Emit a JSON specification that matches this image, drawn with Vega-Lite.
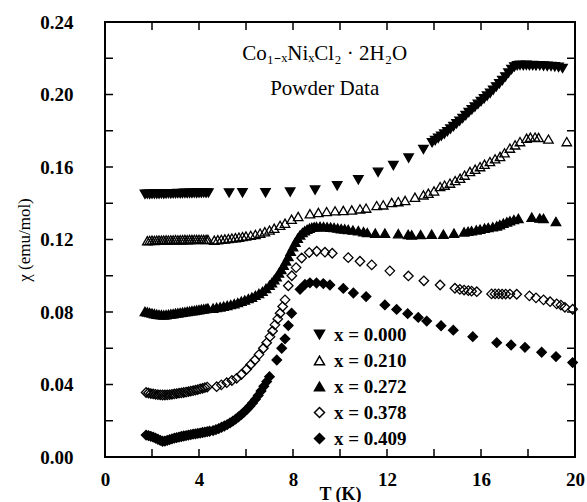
{
"$schema": "https://vega.github.io/schema/vega-lite/v6.json",
"width": 470, "height": 435,
"autosize": {"type": "none"},
"padding": {"left": 105, "top": 22, "right": 12, "bottom": 45},
"config": {"view": {"stroke": "black", "strokeWidth": 2}, "font": "Liberation Serif"},
"datasets": {
"main": [
{"series":"x = 0.000","T":1.7,"chi":0.1449},{"series":"x = 0.000","T":1.8,"chi":0.1450},{"series":"x = 0.000","T":1.9,"chi":0.1449},{"series":"x = 0.000","T":2.0,"chi":0.1450},{"series":"x = 0.000","T":2.1,"chi":0.1451},{"series":"x = 0.000","T":2.2,"chi":0.1450},{"series":"x = 0.000","T":2.3,"chi":0.1451},{"series":"x = 0.000","T":2.4,"chi":0.1452},{"series":"x = 0.000","T":2.5,"chi":0.1451},{"series":"x = 0.000","T":2.6,"chi":0.1452},{"series":"x = 0.000","T":2.7,"chi":0.1453},{"series":"x = 0.000","T":2.8,"chi":0.1452},{"series":"x = 0.000","T":2.9,"chi":0.1453},{"series":"x = 0.000","T":3.0,"chi":0.1453},{"series":"x = 0.000","T":3.1,"chi":0.1454},{"series":"x = 0.000","T":3.2,"chi":0.1453},{"series":"x = 0.000","T":3.3,"chi":0.1454},{"series":"x = 0.000","T":3.4,"chi":0.1455},{"series":"x = 0.000","T":3.5,"chi":0.1454},{"series":"x = 0.000","T":3.6,"chi":0.1455},{"series":"x = 0.000","T":3.7,"chi":0.1455},{"series":"x = 0.000","T":3.8,"chi":0.1456},{"series":"x = 0.000","T":3.9,"chi":0.1455},{"series":"x = 0.000","T":4.0,"chi":0.1456},{"series":"x = 0.000","T":4.1,"chi":0.1456},{"series":"x = 0.000","T":4.2,"chi":0.1457},{"series":"x = 0.000","T":4.3,"chi":0.1456},{"series":"x = 0.000","T":4.4,"chi":0.1457},
{"series":"x = 0.000","T":5.28,"chi":0.1457},{"series":"x = 0.000","T":5.85,"chi":0.1458},{"series":"x = 0.000","T":6.83,"chi":0.1458},{"series":"x = 0.000","T":7.88,"chi":0.1462},{"series":"x = 0.000","T":8.94,"chi":0.1473},{"series":"x = 0.000","T":9.88,"chi":0.1496},{"series":"x = 0.000","T":10.78,"chi":0.1529},{"series":"x = 0.000","T":11.62,"chi":0.1571},{"series":"x = 0.000","T":12.27,"chi":0.1608},{"series":"x = 0.000","T":12.92,"chi":0.1649},{"series":"x = 0.000","T":13.55,"chi":0.1697},
{"series":"x = 0.000","T":13.92,"chi":0.1734},{"series":"x = 0.000","T":14.05,"chi":0.1746},{"series":"x = 0.000","T":14.18,"chi":0.1758},{"series":"x = 0.000","T":14.31,"chi":0.1770},{"series":"x = 0.000","T":14.44,"chi":0.1782},{"series":"x = 0.000","T":14.57,"chi":0.1795},{"series":"x = 0.000","T":14.7,"chi":0.1809},{"series":"x = 0.000","T":14.83,"chi":0.1823},{"series":"x = 0.000","T":14.96,"chi":0.1838},{"series":"x = 0.000","T":15.09,"chi":0.1853},{"series":"x = 0.000","T":15.22,"chi":0.1868},{"series":"x = 0.000","T":15.35,"chi":0.1884},{"series":"x = 0.000","T":15.48,"chi":0.1900},{"series":"x = 0.000","T":15.61,"chi":0.1916},{"series":"x = 0.000","T":15.74,"chi":0.1931},{"series":"x = 0.000","T":15.87,"chi":0.1946},{"series":"x = 0.000","T":16.0,"chi":0.1961},{"series":"x = 0.000","T":16.13,"chi":0.1976},{"series":"x = 0.000","T":16.26,"chi":0.1991},{"series":"x = 0.000","T":16.39,"chi":0.2007},{"series":"x = 0.000","T":16.52,"chi":0.2024},{"series":"x = 0.000","T":16.65,"chi":0.2042},{"series":"x = 0.000","T":16.78,"chi":0.2059},{"series":"x = 0.000","T":16.91,"chi":0.2077},{"series":"x = 0.000","T":17.04,"chi":0.2097},{"series":"x = 0.000","T":17.17,"chi":0.2118},{"series":"x = 0.000","T":17.3,"chi":0.2138},{"series":"x = 0.000","T":17.42,"chi":0.2152},{"series":"x = 0.000","T":17.54,"chi":0.2159},
{"series":"x = 0.000","T":17.66,"chi":0.2161},{"series":"x = 0.000","T":17.8,"chi":0.2160},{"series":"x = 0.000","T":17.93,"chi":0.2161},{"series":"x = 0.000","T":18.06,"chi":0.2159},{"series":"x = 0.000","T":18.2,"chi":0.2160},{"series":"x = 0.000","T":18.34,"chi":0.2158},{"series":"x = 0.000","T":18.5,"chi":0.2159},{"series":"x = 0.000","T":18.66,"chi":0.2157},{"series":"x = 0.000","T":18.82,"chi":0.2156},{"series":"x = 0.000","T":18.98,"chi":0.2155},{"series":"x = 0.000","T":19.14,"chi":0.2153},{"series":"x = 0.000","T":19.3,"chi":0.2150},{"series":"x = 0.000","T":19.47,"chi":0.2144},

{"series":"x = 0.210","T":1.8,"chi":0.1193},{"series":"x = 0.210","T":1.9,"chi":0.1195},{"series":"x = 0.210","T":2.0,"chi":0.1196},{"series":"x = 0.210","T":2.1,"chi":0.1195},{"series":"x = 0.210","T":2.2,"chi":0.1196},{"series":"x = 0.210","T":2.3,"chi":0.1197},{"series":"x = 0.210","T":2.4,"chi":0.1196},{"series":"x = 0.210","T":2.5,"chi":0.1197},{"series":"x = 0.210","T":2.6,"chi":0.1198},{"series":"x = 0.210","T":2.7,"chi":0.1197},{"series":"x = 0.210","T":2.8,"chi":0.1198},{"series":"x = 0.210","T":2.9,"chi":0.1198},{"series":"x = 0.210","T":3.0,"chi":0.1199},{"series":"x = 0.210","T":3.1,"chi":0.1198},{"series":"x = 0.210","T":3.2,"chi":0.1199},{"series":"x = 0.210","T":3.3,"chi":0.1199},{"series":"x = 0.210","T":3.4,"chi":0.1200},{"series":"x = 0.210","T":3.5,"chi":0.1199},{"series":"x = 0.210","T":3.6,"chi":0.1200},{"series":"x = 0.210","T":3.7,"chi":0.1200},{"series":"x = 0.210","T":3.8,"chi":0.1201},{"series":"x = 0.210","T":3.9,"chi":0.1200},{"series":"x = 0.210","T":4.0,"chi":0.1201},{"series":"x = 0.210","T":4.1,"chi":0.1201},{"series":"x = 0.210","T":4.2,"chi":0.1200},{"series":"x = 0.210","T":4.3,"chi":0.1201},{"series":"x = 0.210","T":4.38,"chi":0.1200},
{"series":"x = 0.210","T":4.65,"chi":0.1196},{"series":"x = 0.210","T":4.8,"chi":0.1199},{"series":"x = 0.210","T":4.95,"chi":0.1201},{"series":"x = 0.210","T":5.1,"chi":0.1203},{"series":"x = 0.210","T":5.25,"chi":0.1205},{"series":"x = 0.210","T":5.4,"chi":0.1208},{"series":"x = 0.210","T":5.55,"chi":0.1210},{"series":"x = 0.210","T":5.7,"chi":0.1213},{"series":"x = 0.210","T":5.85,"chi":0.1216},{"series":"x = 0.210","T":6.0,"chi":0.1219},{"series":"x = 0.210","T":6.2,"chi":0.1223},{"series":"x = 0.210","T":6.4,"chi":0.1228},{"series":"x = 0.210","T":6.6,"chi":0.1235},{"series":"x = 0.210","T":6.8,"chi":0.1243},{"series":"x = 0.210","T":7.0,"chi":0.1252},{"series":"x = 0.210","T":7.2,"chi":0.1262},{"series":"x = 0.210","T":7.45,"chi":0.1278},{"series":"x = 0.210","T":7.66,"chi":0.1290},{"series":"x = 0.210","T":7.94,"chi":0.1312},{"series":"x = 0.210","T":8.22,"chi":0.1327},{"series":"x = 0.210","T":8.72,"chi":0.1342},{"series":"x = 0.210","T":9.08,"chi":0.1349},{"series":"x = 0.210","T":9.43,"chi":0.1354},{"series":"x = 0.210","T":9.79,"chi":0.1358},{"series":"x = 0.210","T":10.14,"chi":0.1360},{"series":"x = 0.210","T":10.5,"chi":0.1363},{"series":"x = 0.210","T":10.85,"chi":0.1369},{"series":"x = 0.210","T":11.11,"chi":0.1373},{"series":"x = 0.210","T":11.56,"chi":0.1387},{"series":"x = 0.210","T":11.84,"chi":0.1391},{"series":"x = 0.210","T":12.2,"chi":0.1404},{"series":"x = 0.210","T":12.48,"chi":0.1409},{"series":"x = 0.210","T":12.77,"chi":0.1415},{"series":"x = 0.210","T":13.19,"chi":0.1433},{"series":"x = 0.210","T":13.55,"chi":0.1446},{"series":"x = 0.210","T":13.76,"chi":0.1455},{"series":"x = 0.210","T":14.0,"chi":0.1468},{"series":"x = 0.210","T":14.26,"chi":0.1492},{"series":"x = 0.210","T":14.45,"chi":0.1500},{"series":"x = 0.210","T":14.68,"chi":0.1511},{"series":"x = 0.210","T":14.9,"chi":0.1525},{"series":"x = 0.210","T":15.11,"chi":0.1538},{"series":"x = 0.210","T":15.3,"chi":0.1555},{"series":"x = 0.210","T":15.53,"chi":0.1575},{"series":"x = 0.210","T":15.75,"chi":0.1588},{"series":"x = 0.210","T":15.96,"chi":0.1602},{"series":"x = 0.210","T":16.15,"chi":0.1615},{"series":"x = 0.210","T":16.38,"chi":0.1630},{"series":"x = 0.210","T":16.6,"chi":0.1645},{"series":"x = 0.210","T":16.81,"chi":0.1658},{"series":"x = 0.210","T":17.0,"chi":0.1678},{"series":"x = 0.210","T":17.23,"chi":0.1704},{"series":"x = 0.210","T":17.45,"chi":0.1722},{"series":"x = 0.210","T":17.66,"chi":0.1740},{"series":"x = 0.210","T":17.94,"chi":0.1759},{"series":"x = 0.210","T":18.1,"chi":0.1764},{"series":"x = 0.210","T":18.3,"chi":0.1765},{"series":"x = 0.210","T":18.45,"chi":0.1763},{"series":"x = 0.210","T":18.87,"chi":0.1754},{"series":"x = 0.210","T":19.65,"chi":0.1740},

{"series":"x = 0.272","T":1.7,"chi":0.0803},{"series":"x = 0.272","T":1.8,"chi":0.0800},{"series":"x = 0.272","T":1.9,"chi":0.0797},{"series":"x = 0.272","T":2.0,"chi":0.0794},{"series":"x = 0.272","T":2.1,"chi":0.0791},{"series":"x = 0.272","T":2.2,"chi":0.0788},{"series":"x = 0.272","T":2.3,"chi":0.0786},{"series":"x = 0.272","T":2.4,"chi":0.0785},{"series":"x = 0.272","T":2.5,"chi":0.0784},{"series":"x = 0.272","T":2.6,"chi":0.0785},{"series":"x = 0.272","T":2.7,"chi":0.0787},{"series":"x = 0.272","T":2.8,"chi":0.0789},{"series":"x = 0.272","T":2.9,"chi":0.0791},{"series":"x = 0.272","T":3.0,"chi":0.0793},{"series":"x = 0.272","T":3.1,"chi":0.0795},{"series":"x = 0.272","T":3.2,"chi":0.0797},{"series":"x = 0.272","T":3.3,"chi":0.0799},{"series":"x = 0.272","T":3.4,"chi":0.0801},{"series":"x = 0.272","T":3.5,"chi":0.0803},{"series":"x = 0.272","T":3.6,"chi":0.0805},{"series":"x = 0.272","T":3.7,"chi":0.0807},{"series":"x = 0.272","T":3.8,"chi":0.0809},{"series":"x = 0.272","T":3.9,"chi":0.0811},{"series":"x = 0.272","T":4.0,"chi":0.0813},{"series":"x = 0.272","T":4.1,"chi":0.0815},{"series":"x = 0.272","T":4.2,"chi":0.0817},{"series":"x = 0.272","T":4.3,"chi":0.0819},{"series":"x = 0.272","T":4.38,"chi":0.0821},
{"series":"x = 0.272","T":4.6,"chi":0.0821},{"series":"x = 0.272","T":4.75,"chi":0.0825},{"series":"x = 0.272","T":4.9,"chi":0.0828},{"series":"x = 0.272","T":5.05,"chi":0.0832},{"series":"x = 0.272","T":5.2,"chi":0.0836},{"series":"x = 0.272","T":5.35,"chi":0.0841},{"series":"x = 0.272","T":5.5,"chi":0.0846},{"series":"x = 0.272","T":5.65,"chi":0.0852},{"series":"x = 0.272","T":5.8,"chi":0.0860},{"series":"x = 0.272","T":5.95,"chi":0.0866},{"series":"x = 0.272","T":6.1,"chi":0.0874},{"series":"x = 0.272","T":6.25,"chi":0.0882},{"series":"x = 0.272","T":6.4,"chi":0.0892},{"series":"x = 0.272","T":6.55,"chi":0.0902},{"series":"x = 0.272","T":6.7,"chi":0.0914},{"series":"x = 0.272","T":6.85,"chi":0.0930},{"series":"x = 0.272","T":7.0,"chi":0.0948},{"series":"x = 0.272","T":7.1,"chi":0.0962},{"series":"x = 0.272","T":7.2,"chi":0.0978},{"series":"x = 0.272","T":7.3,"chi":0.0995},{"series":"x = 0.272","T":7.4,"chi":0.1015},{"series":"x = 0.272","T":7.5,"chi":0.1035},{"series":"x = 0.272","T":7.6,"chi":0.1058},{"series":"x = 0.272","T":7.7,"chi":0.1082},{"series":"x = 0.272","T":7.8,"chi":0.1106},{"series":"x = 0.272","T":7.9,"chi":0.1135},{"series":"x = 0.272","T":8.0,"chi":0.1160},{"series":"x = 0.272","T":8.1,"chi":0.1185},{"series":"x = 0.272","T":8.2,"chi":0.1207},{"series":"x = 0.272","T":8.3,"chi":0.1225},{"series":"x = 0.272","T":8.4,"chi":0.1238},{"series":"x = 0.272","T":8.5,"chi":0.1248},{"series":"x = 0.272","T":8.6,"chi":0.1256},{"series":"x = 0.272","T":8.7,"chi":0.1262},{"series":"x = 0.272","T":8.8,"chi":0.1267},{"series":"x = 0.272","T":8.9,"chi":0.1270},{"series":"x = 0.272","T":9.0,"chi":0.1271},{"series":"x = 0.272","T":9.15,"chi":0.1272},{"series":"x = 0.272","T":9.3,"chi":0.1271},{"series":"x = 0.272","T":9.45,"chi":0.1270},{"series":"x = 0.272","T":9.6,"chi":0.1268},{"series":"x = 0.272","T":9.75,"chi":0.1266},{"series":"x = 0.272","T":9.9,"chi":0.1263},{"series":"x = 0.272","T":10.05,"chi":0.1260},{"series":"x = 0.272","T":10.2,"chi":0.1258},{"series":"x = 0.272","T":10.35,"chi":0.1255},{"series":"x = 0.272","T":10.55,"chi":0.1252},{"series":"x = 0.272","T":10.78,"chi":0.1249},{"series":"x = 0.272","T":11.0,"chi":0.1243},{"series":"x = 0.272","T":11.16,"chi":0.1238},{"series":"x = 0.272","T":11.5,"chi":0.1235},{"series":"x = 0.272","T":11.91,"chi":0.1235},{"series":"x = 0.272","T":12.48,"chi":0.1232},{"series":"x = 0.272","T":12.9,"chi":0.1228},{"series":"x = 0.272","T":13.05,"chi":0.1225},{"series":"x = 0.272","T":13.43,"chi":0.1227},{"series":"x = 0.272","T":13.9,"chi":0.1229},{"series":"x = 0.272","T":14.4,"chi":0.1229},{"series":"x = 0.272","T":14.85,"chi":0.1235},{"series":"x = 0.272","T":15.28,"chi":0.1242},{"series":"x = 0.272","T":15.45,"chi":0.1245},{"series":"x = 0.272","T":15.6,"chi":0.1248},{"series":"x = 0.272","T":15.8,"chi":0.1253},{"series":"x = 0.272","T":15.96,"chi":0.1257},{"series":"x = 0.272","T":16.15,"chi":0.1262},{"series":"x = 0.272","T":16.31,"chi":0.1266},{"series":"x = 0.272","T":16.5,"chi":0.1270},{"series":"x = 0.272","T":16.67,"chi":0.1275},{"series":"x = 0.272","T":16.8,"chi":0.1282},{"series":"x = 0.272","T":16.95,"chi":0.1290},{"series":"x = 0.272","T":17.1,"chi":0.1297},{"series":"x = 0.272","T":17.23,"chi":0.1303},{"series":"x = 0.272","T":17.4,"chi":0.1310},{"series":"x = 0.272","T":17.59,"chi":0.1316},{"series":"x = 0.272","T":18.16,"chi":0.1323},{"series":"x = 0.272","T":18.5,"chi":0.1318},{"series":"x = 0.272","T":18.66,"chi":0.1316},{"series":"x = 0.272","T":19.19,"chi":0.1299},

{"series":"x = 0.378","T":1.75,"chi":0.0356},{"series":"x = 0.378","T":1.85,"chi":0.0353},{"series":"x = 0.378","T":1.95,"chi":0.0350},{"series":"x = 0.378","T":2.05,"chi":0.0348},{"series":"x = 0.378","T":2.15,"chi":0.0346},{"series":"x = 0.378","T":2.25,"chi":0.0344},{"series":"x = 0.378","T":2.35,"chi":0.0343},{"series":"x = 0.378","T":2.45,"chi":0.0342},{"series":"x = 0.378","T":2.55,"chi":0.0342},{"series":"x = 0.378","T":2.65,"chi":0.0343},{"series":"x = 0.378","T":2.75,"chi":0.0344},{"series":"x = 0.378","T":2.85,"chi":0.0346},{"series":"x = 0.378","T":2.95,"chi":0.0348},{"series":"x = 0.378","T":3.05,"chi":0.0350},{"series":"x = 0.378","T":3.15,"chi":0.0352},{"series":"x = 0.378","T":3.25,"chi":0.0354},{"series":"x = 0.378","T":3.35,"chi":0.0356},{"series":"x = 0.378","T":3.45,"chi":0.0358},{"series":"x = 0.378","T":3.55,"chi":0.0361},{"series":"x = 0.378","T":3.65,"chi":0.0363},{"series":"x = 0.378","T":3.75,"chi":0.0366},{"series":"x = 0.378","T":3.85,"chi":0.0369},{"series":"x = 0.378","T":3.95,"chi":0.0372},{"series":"x = 0.378","T":4.05,"chi":0.0376},{"series":"x = 0.378","T":4.15,"chi":0.0379},{"series":"x = 0.378","T":4.25,"chi":0.0383},{"series":"x = 0.378","T":4.35,"chi":0.0386},
{"series":"x = 0.378","T":4.75,"chi":0.0388},{"series":"x = 0.378","T":4.95,"chi":0.0398},{"series":"x = 0.378","T":5.18,"chi":0.0410},{"series":"x = 0.378","T":5.4,"chi":0.0422},{"series":"x = 0.378","T":5.6,"chi":0.0434},{"series":"x = 0.378","T":5.8,"chi":0.0455},{"series":"x = 0.378","T":6.03,"chi":0.0484},{"series":"x = 0.378","T":6.2,"chi":0.0510},{"series":"x = 0.378","T":6.38,"chi":0.0535},{"series":"x = 0.378","T":6.55,"chi":0.0565},{"series":"x = 0.378","T":6.74,"chi":0.0600},{"series":"x = 0.378","T":6.88,"chi":0.0630},{"series":"x = 0.378","T":7.02,"chi":0.0664},{"series":"x = 0.378","T":7.13,"chi":0.0695},{"series":"x = 0.378","T":7.23,"chi":0.0729},{"series":"x = 0.378","T":7.35,"chi":0.0762},{"series":"x = 0.378","T":7.45,"chi":0.0793},{"series":"x = 0.378","T":7.56,"chi":0.0830},{"series":"x = 0.378","T":7.66,"chi":0.0867},{"series":"x = 0.378","T":7.8,"chi":0.0945},{"series":"x = 0.378","T":7.95,"chi":0.1000},{"series":"x = 0.378","T":8.13,"chi":0.1045},{"series":"x = 0.378","T":8.37,"chi":0.1098},{"series":"x = 0.378","T":8.69,"chi":0.1128},{"series":"x = 0.378","T":9.01,"chi":0.1135},{"series":"x = 0.378","T":9.36,"chi":0.1130},{"series":"x = 0.378","T":9.67,"chi":0.1124},{"series":"x = 0.378","T":10.35,"chi":0.1100},{"series":"x = 0.378","T":10.85,"chi":0.1080},{"series":"x = 0.378","T":11.35,"chi":0.1060},{"series":"x = 0.378","T":12.12,"chi":0.1027},{"series":"x = 0.378","T":12.91,"chi":0.0999},{"series":"x = 0.378","T":13.57,"chi":0.0972},{"series":"x = 0.378","T":14.26,"chi":0.0949},{"series":"x = 0.378","T":14.89,"chi":0.0931},{"series":"x = 0.378","T":15.1,"chi":0.0925},{"series":"x = 0.378","T":15.28,"chi":0.0921},{"series":"x = 0.378","T":15.46,"chi":0.0918},{"series":"x = 0.378","T":15.6,"chi":0.0915},{"series":"x = 0.378","T":15.82,"chi":0.0912},{"series":"x = 0.378","T":16.45,"chi":0.0900},{"series":"x = 0.378","T":16.6,"chi":0.0900},{"series":"x = 0.378","T":16.75,"chi":0.0900},{"series":"x = 0.378","T":16.9,"chi":0.0899},{"series":"x = 0.378","T":17.05,"chi":0.0899},{"series":"x = 0.378","T":17.23,"chi":0.0899},{"series":"x = 0.378","T":17.52,"chi":0.0898},{"series":"x = 0.378","T":18.06,"chi":0.0889},{"series":"x = 0.378","T":18.34,"chi":0.0878},{"series":"x = 0.378","T":18.66,"chi":0.0867},{"series":"x = 0.378","T":18.94,"chi":0.0857},{"series":"x = 0.378","T":19.22,"chi":0.0845},{"series":"x = 0.378","T":19.4,"chi":0.0838},{"series":"x = 0.378","T":19.57,"chi":0.0826},{"series":"x = 0.378","T":19.9,"chi":0.0815},

{"series":"x = 0.409","T":1.75,"chi":0.0121},{"series":"x = 0.409","T":1.85,"chi":0.0118},{"series":"x = 0.409","T":1.95,"chi":0.0114},{"series":"x = 0.409","T":2.05,"chi":0.0110},{"series":"x = 0.409","T":2.15,"chi":0.0104},{"series":"x = 0.409","T":2.25,"chi":0.0098},{"series":"x = 0.409","T":2.35,"chi":0.0092},{"series":"x = 0.409","T":2.45,"chi":0.0087},{"series":"x = 0.409","T":2.55,"chi":0.0088},{"series":"x = 0.409","T":2.65,"chi":0.0092},{"series":"x = 0.409","T":2.75,"chi":0.0096},{"series":"x = 0.409","T":2.85,"chi":0.0100},{"series":"x = 0.409","T":2.95,"chi":0.0104},{"series":"x = 0.409","T":3.05,"chi":0.0107},{"series":"x = 0.409","T":3.15,"chi":0.0110},{"series":"x = 0.409","T":3.25,"chi":0.0113},{"series":"x = 0.409","T":3.35,"chi":0.0116},{"series":"x = 0.409","T":3.45,"chi":0.0118},{"series":"x = 0.409","T":3.55,"chi":0.0121},{"series":"x = 0.409","T":3.65,"chi":0.0123},{"series":"x = 0.409","T":3.75,"chi":0.0126},{"series":"x = 0.409","T":3.85,"chi":0.0128},{"series":"x = 0.409","T":3.95,"chi":0.0130},{"series":"x = 0.409","T":4.05,"chi":0.0132},{"series":"x = 0.409","T":4.15,"chi":0.0135},{"series":"x = 0.409","T":4.25,"chi":0.0137},{"series":"x = 0.409","T":4.35,"chi":0.0140},{"series":"x = 0.409","T":4.45,"chi":0.0142},{"series":"x = 0.409","T":4.6,"chi":0.0146},{"series":"x = 0.409","T":4.72,"chi":0.0151},{"series":"x = 0.409","T":4.84,"chi":0.0157},{"series":"x = 0.409","T":4.96,"chi":0.0164},{"series":"x = 0.409","T":5.08,"chi":0.0171},{"series":"x = 0.409","T":5.2,"chi":0.0179},{"series":"x = 0.409","T":5.32,"chi":0.0188},{"series":"x = 0.409","T":5.44,"chi":0.0198},{"series":"x = 0.409","T":5.56,"chi":0.0209},{"series":"x = 0.409","T":5.68,"chi":0.0221},{"series":"x = 0.409","T":5.8,"chi":0.0234},{"series":"x = 0.409","T":5.92,"chi":0.0248},{"series":"x = 0.409","T":6.04,"chi":0.0263},{"series":"x = 0.409","T":6.16,"chi":0.0280},{"series":"x = 0.409","T":6.28,"chi":0.0298},{"series":"x = 0.409","T":6.4,"chi":0.0318},{"series":"x = 0.409","T":6.52,"chi":0.0340},{"series":"x = 0.409","T":6.64,"chi":0.0364},{"series":"x = 0.409","T":6.76,"chi":0.0390},{"series":"x = 0.409","T":6.88,"chi":0.0416},{"series":"x = 0.409","T":7.0,"chi":0.0443},
{"series":"x = 0.409","T":7.31,"chi":0.0535},{"series":"x = 0.409","T":7.52,"chi":0.0600},{"series":"x = 0.409","T":7.66,"chi":0.0652},{"series":"x = 0.409","T":7.8,"chi":0.0725},{"series":"x = 0.409","T":7.94,"chi":0.0793},{"series":"x = 0.409","T":8.3,"chi":0.0925},{"series":"x = 0.409","T":8.51,"chi":0.0952},{"series":"x = 0.409","T":8.72,"chi":0.0961},{"series":"x = 0.409","T":9.0,"chi":0.0960},{"series":"x = 0.409","T":9.29,"chi":0.0957},{"series":"x = 0.409","T":9.57,"chi":0.0949},{"series":"x = 0.409","T":10.14,"chi":0.0930},{"series":"x = 0.409","T":10.57,"chi":0.0905},{"series":"x = 0.409","T":11.11,"chi":0.0885},{"series":"x = 0.409","T":11.91,"chi":0.0839},{"series":"x = 0.409","T":12.41,"chi":0.0814},{"series":"x = 0.409","T":12.88,"chi":0.0791},{"series":"x = 0.409","T":13.33,"chi":0.0770},{"series":"x = 0.409","T":13.69,"chi":0.0750},{"series":"x = 0.409","T":14.3,"chi":0.0724},{"series":"x = 0.409","T":14.82,"chi":0.0700},{"series":"x = 0.409","T":15.65,"chi":0.0664},{"series":"x = 0.409","T":16.67,"chi":0.0631},{"series":"x = 0.409","T":17.28,"chi":0.0618},{"series":"x = 0.409","T":17.87,"chi":0.0605},{"series":"x = 0.409","T":18.58,"chi":0.0578},{"series":"x = 0.409","T":19.19,"chi":0.0554},{"series":"x = 0.409","T":19.9,"chi":0.0521}
],
"notes": [{"T": 9.35, "chi": 0.2192, "t": "Co₁₋ₓNiₓCl₂ · 2H₂O"}, {"T": 9.35, "chi": 0.1998, "t": "Powder Data"}],
"xticks": [{"v": 2}, {"v": 4}, {"v": 6}, {"v": 8}, {"v": 10}, {"v": 12}, {"v": 14}, {"v": 16}, {"v": 18}],
"yticks": [{"v": 0.02}, {"v": 0.04}, {"v": 0.06}, {"v": 0.08}, {"v": 0.1}, {"v": 0.12}, {"v": 0.14}, {"v": 0.16}, {"v": 0.18}, {"v": 0.2}, {"v": 0.22}]
},
"layer": [
{
"data": {"name": "main"},
"mark": {"type": "point", "filled": true, "size": 90, "opacity": 1, "strokeWidth": 1.3},
"encoding": {
"x": {"field": "T", "type": "quantitative", "scale": {"domain": [0, 20], "nice": false, "zero": false},
"axis": {"orient": "bottom", "values": [0, 4, 8, 12, 16, 20], "ticks": false, "grid": false, "domain": false, "labelFont": "Liberation Serif", "labelFontSize": 19, "labelFontWeight": "bold", "labelColor": "black", "labelPadding": 13, "labelFlush": false, "title": "T (K)", "titleFont": "Liberation Serif", "titleFontSize": 18, "titleFontWeight": "bold", "titleColor": "black", "titlePadding": -4}},
"y": {"field": "chi", "type": "quantitative", "scale": {"domain": [0, 0.24], "nice": false, "zero": false},
"axis": {"orient": "left", "values": [0, 0.04, 0.08, 0.12, 0.16, 0.2, 0.24], "format": ".2f", "ticks": false, "grid": false, "domain": false, "labelFont": "Liberation Serif", "labelFontSize": 19, "labelFontWeight": "bold", "labelColor": "black", "labelPadding": 32, "labelFlush": false, "title": "χ (emu/mol)", "titleFont": "Liberation Serif", "titleFontSize": 17, "titleFontWeight": "normal", "titleColor": "black", "titlePadding": 6}},
"shape": {"field": "series", "type": "nominal",
"scale": {"domain": ["x = 0.000", "x = 0.210", "x = 0.272", "x = 0.378", "x = 0.409"], "range": ["triangle-down", "triangle-up", "triangle-up", "diamond", "diamond"]},
"legend": {"title": null, "orient": "none", "legendX": 205, "legendY": 303, "padding": 0, "symbolStrokeWidth": 1.5, "symbolSize": 100, "labelFont": "Liberation Serif", "labelFontSize": 19, "labelFontWeight": "bold", "labelColor": "black", "rowPadding": 6, "labelOffset": 5}},
"fill": {"field": "series", "type": "nominal",
"scale": {"domain": ["x = 0.000", "x = 0.210", "x = 0.272", "x = 0.378", "x = 0.409"], "range": ["black", "transparent", "black", "transparent", "black"]},
"legend": {"title": null, "orient": "none", "legendX": 205, "legendY": 303, "padding": 0, "symbolStrokeWidth": 1.5, "symbolSize": 100, "labelFont": "Liberation Serif", "labelFontSize": 19, "labelFontWeight": "bold", "labelColor": "black", "rowPadding": 6, "labelOffset": 5}},
"stroke": {"field": "series", "type": "nominal",
"scale": {"domain": ["x = 0.000", "x = 0.210", "x = 0.272", "x = 0.378", "x = 0.409"], "range": ["black", "black", "black", "black", "black"]},
"legend": {"title": null, "orient": "none", "legendX": 205, "legendY": 303, "padding": 0, "symbolStrokeWidth": 1.5, "symbolSize": 100, "labelFont": "Liberation Serif", "labelFontSize": 19, "labelFontWeight": "bold", "labelColor": "black", "rowPadding": 6, "labelOffset": 5}}
}
},
{
"data": {"name": "notes"},
"mark": {"type": "text", "font": "Liberation Serif", "fontSize": 21, "align": "center", "baseline": "alphabetic", "color": "black"},
"encoding": {
"x": {"field": "T", "type": "quantitative"},
"y": {"field": "chi", "type": "quantitative"},
"text": {"field": "t"}
}
},
{
"data": {"name": "xticks"},
"mark": {"type": "rule", "color": "black", "strokeWidth": 1.5},
"encoding": {"x": {"field": "v", "type": "quantitative"}, "y": {"datum": 0}, "y2": {"datum": 0.0044}}
},
{
"data": {"name": "xticks"},
"mark": {"type": "rule", "color": "black", "strokeWidth": 1.5},
"encoding": {"x": {"field": "v", "type": "quantitative"}, "y": {"datum": 0.24}, "y2": {"datum": 0.2356}}
},
{
"data": {"name": "yticks"},
"mark": {"type": "rule", "color": "black", "strokeWidth": 1.5},
"encoding": {"y": {"field": "v", "type": "quantitative"}, "x": {"datum": 0}, "x2": {"datum": 0.34}}
},
{
"data": {"name": "yticks"},
"mark": {"type": "rule", "color": "black", "strokeWidth": 1.5},
"encoding": {"y": {"field": "v", "type": "quantitative"}, "x": {"datum": 20}, "x2": {"datum": 19.66}}
}
]
}
